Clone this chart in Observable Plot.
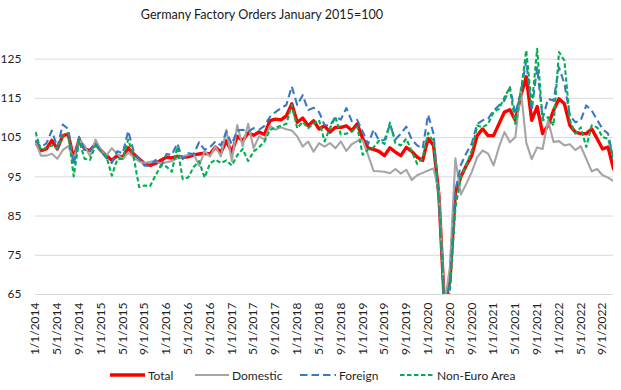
<!DOCTYPE html>
<html><head><meta charset="utf-8">
<script src="https://cdn.jsdelivr.net/npm/d3@7"></script>
<script src="https://cdn.jsdelivr.net/npm/@observablehq/plot@0.6"></script>
<style>
body{margin:0;background:#fff;font-family:Lato,sans-serif;}
#wrap{position:relative;width:621px;height:390px;overflow:hidden;background:#fff;}
#title{position:absolute;top:0;left:0;width:524px;height:28px;line-height:29px;text-align:center;font-size:12.6px;color:#1a1a1a;}
#chart{position:absolute;top:28px;left:0;}
#legend{position:absolute;top:362px;left:0;width:621px;height:28px;font-size:12px;color:#1f1f1f;}
.item{position:absolute;top:6px;height:14px;display:flex;align-items:center;white-space:nowrap;}
</style></head>
<body>
<div id="wrap">
  <div id="title"></div>
  <div id="chart"></div>
  <div id="legend"></div>
</div>
<script>
const title = "Germany Factory Orders January 2015=100";
const startYear = 2014, startMonth = 1, nMonths = 107; // Jan 2014 .. Nov 2022
const seriesNames = ["Total", "Domestic", "Foreign", "Non-Euro Area"];
const yTicks = [65, 75, 85, 95, 105, 115, 125];
const yDomain = [65, 130];

const total = [103.8,101.7,102.1,104.3,102.1,105.5,105.9,99.6,104.5,102.1,101.7,103.4,
101.7,100.4,99.2,100.4,100.0,102.4,100.8,99.6,98.3,97.9,98.4,99.2,
100.0,99.8,100.2,100.0,100.1,100.6,100.8,101.0,100.8,102.6,101.2,104.2,
101.3,105.3,104.2,106.2,105.6,106.4,105.8,109.3,109.7,109.5,110.5,113.6,
108.9,110.0,108.0,109.3,107.2,108.0,106.4,107.6,107.6,108.0,106.8,108.5,
104.8,102.3,102.0,101.5,100.4,102.4,101.3,100.4,102.5,101.5,100.0,99.2,
104.8,103.0,90.0,62.0,68.5,91.1,95.0,97.9,100.4,105.5,107.2,105.5,
105.5,108.5,111.5,112.1,109.4,115.7,120.5,109.4,112.9,106.0,108.1,111.9,
114.9,113.6,108.1,106.4,106.0,106.0,107.2,104.7,102.1,102.6,97.0];

const domestic = [103.8,100.4,100.4,100.9,99.6,101.8,102.8,99.5,104.4,103.0,100.2,104.5,
101.8,100.4,102.3,100.8,99.5,101.2,100.0,98.9,98.5,98.8,99.0,98.3,
98.7,99.0,99.7,100.2,100.6,100.9,97.8,101.5,100.2,102.7,100.2,107.0,
99.0,108.2,102.8,108.5,102.3,105.3,104.5,108.0,107.0,107.6,107.1,106.8,
105.3,102.7,104.0,101.4,103.6,102.7,103.6,102.3,104.0,101.6,103.3,104.1,
104.3,100.5,96.5,96.4,96.3,95.9,97.0,95.8,96.8,94.2,95.4,96.0,
96.6,97.1,91.0,62.5,72.0,99.7,90.5,93.2,96.2,100.0,101.7,100.9,
97.9,102.6,106.4,103.8,105.1,117.4,103.7,99.5,102.5,102.1,109.4,103.9,
104.1,103.0,103.3,101.8,102.8,99.6,96.4,97.0,95.4,94.8,93.9];

const foreign = [104.3,102.6,103.5,106.8,102.5,108.3,107.2,98.0,105.2,101.8,101.6,103.5,
101.5,99.8,98.5,101.5,101.0,106.7,101.5,99.6,97.8,97.8,99.3,97.6,
100.8,100.6,103.5,99.5,101.0,100.8,103.8,101.9,102.5,104.0,103.0,106.5,
103.3,106.8,107.0,106.5,107.4,107.0,108.0,110.3,111.5,112.5,113.3,118.0,
113.3,115.8,112.0,112.6,111.5,108.2,108.0,110.3,109.6,112.5,109.2,109.5,
106.5,103.3,107.0,104.2,104.4,108.2,104.5,106.0,107.8,104.5,103.0,102.2,
110.8,106.0,89.0,62.0,68.0,91.5,98.0,101.0,103.5,108.5,109.4,109.8,
111.9,113.2,114.4,117.8,111.0,116.6,124.6,111.9,122.9,109.8,114.9,114.4,
122.9,118.7,110.6,108.9,109.4,113.2,111.9,109.5,107.2,106.0,99.6];

const nonEuro = [106.4,101.7,102.5,103.0,102.2,105.5,106.1,95.1,104.2,99.6,99.3,103.0,
101.5,100.2,95.3,99.5,99.6,104.5,100.0,92.4,92.8,92.6,95.3,97.9,
97.6,96.3,102.6,94.4,94.8,97.5,99.0,94.8,98.4,99.4,98.5,99.2,
97.9,100.5,102.1,99.0,101.5,102.5,104.0,107.0,107.5,108.0,108.5,113.3,
107.4,109.0,107.4,108.5,109.5,104.0,107.4,110.2,105.8,106.0,106.5,107.8,
100.6,102.0,102.5,104.2,103.4,108.8,103.6,103.0,104.7,101.5,98.3,99.8,
106.2,103.8,89.0,60.0,66.0,87.0,95.0,98.0,101.7,108.1,107.6,108.5,
111.5,112.3,115.3,117.8,108.5,116.6,127.2,113.0,127.6,109.4,110.2,108.1,
126.8,124.6,109.4,106.0,107.6,102.6,108.1,107.6,105.1,104.7,100.0];

const seriesValues = [total, domestic, foreign, nonEuro];
const styles = [
  {stroke:"#FF0000", width:3.4, dash:null, sample:[110,35], text:148},
  {stroke:"#A5A5A5", width:2.1, dash:null, sample:[195,34], text:232},
  {stroke:"#3A78C2", width:2.1, dash:"7.5,4", sample:[300,36], text:339},
  {stroke:"#00B050", width:2.1, dash:"4.5,2.5", sample:[400,35], text:437}
];

const tickLabel = i => {
  const m = (startMonth - 1 + i) % 12 + 1;
  const y = startYear + Math.floor((startMonth - 1 + i) / 12);
  return `${m}/1/${y}`;
};
const xTicks = d3.range(0, nMonths, 4);

document.getElementById("title").textContent = title;

const marks = [
  Plot.gridY(yTicks, {stroke:"#d9d9d9", strokeOpacity:1, strokeWidth:1})
];
seriesValues.forEach((vals, k) => {
  const st = styles[k];
  marks.push(Plot.line(vals, {
    x: (d, i) => i, y: d => d,
    stroke: st.stroke, strokeWidth: st.width,
    strokeDasharray: st.dash, strokeLinejoin:"round", strokeLinecap: st.dash ? "butt" : "round",
    clip: true
  }));
});

const chart = Plot.plot({
  width: 621, height: 334,
  marginLeft: 35, marginRight: 8, marginTop: 11, marginBottom: 68,
  style: {fontFamily: "Lato, sans-serif", fontSize: "12px", color: "#1f1f1f", background: "white", overflow: "visible"},
  x: {domain: [0, nMonths - 1], ticks: xTicks, tickFormat: tickLabel, tickRotate: -90, tickSize: 0, tickPadding: 8, label: null},
  y: {domain: yDomain, ticks: yTicks, tickSize: 0, tickPadding: 14, label: null},
  marks
});
document.getElementById("chart").appendChild(chart);

const legend = document.getElementById("legend");
seriesNames.forEach((name, k) => {
  const st = styles[k];
  const ns = "http://www.w3.org/2000/svg";
  const sv = document.createElementNS(ns, "svg");
  sv.setAttribute("width", st.sample[1]); sv.setAttribute("height", 8);
  sv.style.position = "absolute"; sv.style.left = st.sample[0] + "px"; sv.style.top = "9px";
  const ln = document.createElementNS(ns, "line");
  ln.setAttribute("x1", 0); ln.setAttribute("x2", st.sample[1]);
  ln.setAttribute("y1", 4); ln.setAttribute("y2", 4);
  ln.setAttribute("stroke", st.stroke); ln.setAttribute("stroke-width", st.width);
  if (st.dash) ln.setAttribute("stroke-dasharray", st.dash);
  sv.appendChild(ln);
  legend.appendChild(sv);
  const t = document.createElement("div");
  t.className = "item"; t.style.left = st.text + "px";
  t.textContent = name;
  legend.appendChild(t);
});
</script>
</body></html>
